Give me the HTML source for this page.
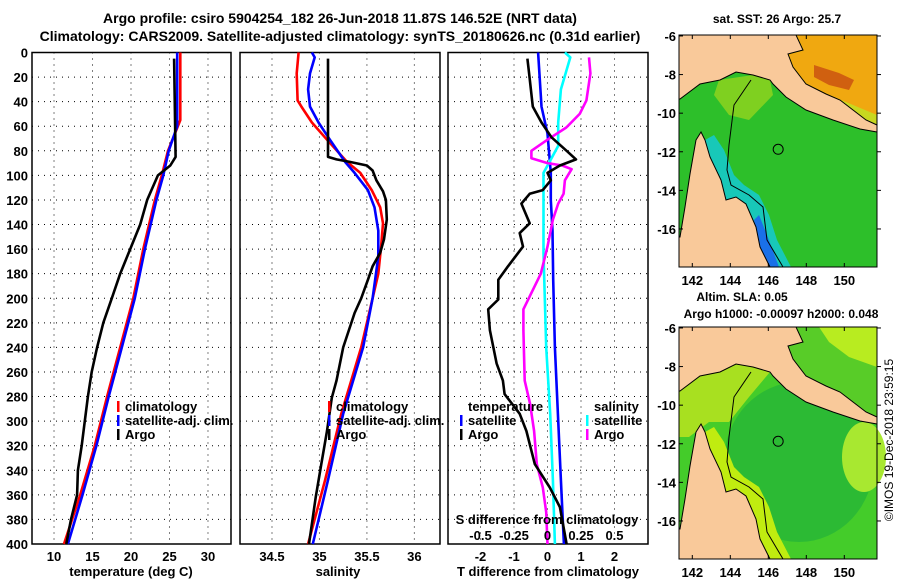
<!DOCTYPE html>
<html><head><meta charset="utf-8"><style>
html,body{margin:0;padding:0;background:#fff;}
svg{display:block;font-family:"Liberation Sans",Arial,sans-serif;font-weight:bold;}
</style></head><body>
<svg id="fig" width="900" height="580" viewBox="0 0 900 580" xmlns="http://www.w3.org/2000/svg">
<text x="340" y="23" font-size="14" text-anchor="middle">Argo profile: csiro 5904254_182 26-Jun-2018 11.87S 146.52E (NRT data)</text>
<text x="340" y="41" font-size="14" text-anchor="middle">Climatology: CARS2009. Satellite-adjusted climatology: synTS_20180626.nc (0.31d earlier)</text>
<g id="plots"></g>
<g id="maps"></g>
<text transform="translate(893,440) rotate(-90)" font-size="12" font-weight="normal" text-anchor="middle">©IMOS 19-Dec-2018 23:59:15</text>
</svg>
<script>
// ---- data ----
const depthTicks = [0,20,40,60,80,100,120,140,160,180,200,220,240,260,280,300,320,340,360,380,400];
const tempTicks = [10,15,20,25,30];
const salTicks = [34.5,35,35.5,36];
const salTickLabels = ["34.5","35","35.5","36"];
const tdiffTicks = [-2,-1,0,1,2];
const sdiffTicks = [-0.5,-0.25,0,0.25,0.5];
const sdiffTickLabels = ["-0.5","-0.25","0","0.25","0.5"];

const tempClimD = [0,55,80,100,120,160,200,240,280,320,360,400];
const tempClim  = [26.4,26.4,24.8,24.0,23.1,21.6,20.3,18.6,16.9,15.3,13.4,11.3];
const tempSatD  = [0,60,80,100,120,160,200,240,280,320,360,400];
const tempSat   = [26.0,26.0,24.9,24.2,23.3,21.8,20.5,18.8,17.1,15.5,13.7,11.8];
const tempArgoD = [5,85,92,100,120,140,160,180,200,220,240,260,280,300,320,340,360,380,400];
const tempArgo  = [25.6,25.8,25.1,23.5,22.1,21.2,19.9,18.6,17.5,16.4,15.6,14.9,14.4,14.0,13.6,13.1,13.0,12.2,11.6];

const salClimD = [0,17,39,44,57,71,89,98,112,126,139,158,180,200,240,294,348,400];
const salClim  = [34.78,34.76,34.77,34.81,34.92,35.08,35.29,35.43,35.55,35.64,35.67,35.65,35.62,35.56,35.44,35.23,35.06,34.88];
const salSatD  = [0,4,17,30,44,57,71,89,98,112,126,145,166,200,240,294,348,400];
const salSat   = [34.92,34.95,34.90,34.88,34.90,34.99,35.11,35.27,35.37,35.51,35.58,35.62,35.62,35.56,35.46,35.25,35.09,34.93];
const salArgoD = [5,85,87,89,92,96,104,113,120,136,152,163,174,185,200,212,240,267,281,308,335,362,400];
const salArgo  = [35.09,35.09,35.18,35.32,35.50,35.56,35.60,35.67,35.70,35.71,35.68,35.64,35.56,35.51,35.44,35.37,35.25,35.18,35.13,35.08,35.02,34.96,34.89];

const tdArgoD = [5,17,44,57,69,80,87,92,98,104,112,115,123,139,147,158,174,185,201,209,226,253,267,278,294,308,335,354,370,400];
const tdArgo  = [-0.6,-0.55,-0.44,-0.18,0.12,0.57,0.85,0.37,0,0.1,-0.14,-0.53,-0.78,-0.53,-0.83,-0.73,-1.18,-1.47,-1.47,-1.77,-1.72,-1.52,-1.33,-1.28,-0.83,-0.63,-0.38,0.07,0.37,0.57];
const tdSatD  = [0,44,66,98,120,145,185,240,294,348,400];
const tdSat   = [-0.28,-0.18,0,0.1,0.1,0.15,0.17,0.22,0.31,0.4,0.49];
const sdSatD  = [0,4,30,57,76,88,98,126,163,200,240,294,348,400];
const sdSat   = [0.13,0.17,0.1,0.08,0.08,0.02,-0.03,-0.03,-0.03,-0.02,-0.01,0.02,0.04,0.055];
const sdArgoD = [4,17,39,50,61,71,80,86,90,92,95,104,115,123,136,158,180,209,226,267,286,308,335,354,374,400];
const sdArgo  = [0.31,0.32,0.29,0.24,0.14,0,-0.12,-0.12,0,0.11,0.18,0.13,0.12,0.08,0.04,0,-0.05,-0.18,-0.18,-0.17,-0.13,-0.1,-0.08,-0.035,-0.01,0];

// ---- scales ----
const NS = "http://www.w3.org/2000/svg";
const TOP = 52.5, BOT = 544;
function yD(d){ return TOP + d*(BOT-TOP)/400; }
const P1 = {x0:32, x1:231, v0:7.14, v1:32.99};
const P2 = {x0:240, x1:440, v0:34.163, v1:36.27};
const P3 = {x0:448, x1:648, v0:-2.97, v1:3.00};
function sx(p,v){ return p.x0 + (v-p.v0)*(p.x1-p.x0)/(p.v1-p.v0); }
function sxS(v){ return sx(P3, v*4); }

function el(tag, attrs, parent){
  const e = document.createElementNS(NS, tag);
  for (const k in attrs) e.setAttribute(k, attrs[k]);
  parent.appendChild(e); return e;
}
const plots = document.getElementById('plots');

function panel(p, name, xticks, xfn, labels, showY){
  const g = el('g', {}, plots);
  
  
  depthTicks.forEach((d,i)=>{
    if (i>0 && i<depthTicks.length-1){
      const l = el('line',{x1:p.x0,x2:p.x1,y1:yD(d),y2:yD(d),stroke:'#000','stroke-width':1,'stroke-dasharray':'1,5'},g);
      
      
    }
    if (showY){
      const t = el('text',{x:p.x0-4,y:yD(d)+5,'font-size':13,'text-anchor':'end'},g);
      
      
      t.textContent = d;
    }
  });
  xticks.forEach((v,i)=>{
    const x = xfn(v);
    const l = el('line',{x1:x,x2:x,y1:TOP,y2:BOT,stroke:'#000','stroke-width':1,'stroke-dasharray':'1,5'},g);
    
    
    if (labels){
      const t = el('text',{x:x,y:BOT+17,'font-size':13,'text-anchor':'middle'},g);
      
      
      t.textContent = labels[i];
    }
  });
  const r = el('rect',{x:p.x0,y:TOP,width:p.x1-p.x0,height:BOT-TOP,fill:'none',stroke:'#000','stroke-width':1.5},g);
  
  
  return g;
}
function series(g, ds, vs, xfn, color, name){
  const pts = ds.map((d,i)=> xfn(vs[i]).toFixed(1)+','+yD(d).toFixed(1)).join(' ');
  const pl = el('polyline',{points:pts,fill:'none',stroke:color,'stroke-width':2.6,'stroke-linejoin':'round'},g);
  
  
}
function txt(g, x, y, s, name, anchor, size){
  const t = el('text',{x:x,y:y,'font-size':size||13,'text-anchor':anchor||'start'},g);
  
  
  t.textContent = s;
  return t;
}
function mark(g, x, y, color, name){
  const r = el('rect',{x:x,y:y-10,width:2.5,height:11,fill:color},g);
  
  
}

// panel 1
const f1 = v=>sx(P1,v);
const g1 = panel(P1,'temperature-panel',tempTicks,f1,tempTicks.map(String),true);
series(g1,tempClimD,tempClim,f1,'#ff0000','temp-climatology-line');
series(g1,tempSatD,tempSat,f1,'#0000ff','temp-satellite-line');
series(g1,tempArgoD,tempArgo,f1,'#000000','temp-argo-line');
txt(g1,131,576,'temperature (deg C)','temperature-axis-title','middle');
mark(g1,117,411,'#ff0000','legend-marker-climatology'); txt(g1,125,411,'climatology','legend-climatology');
mark(g1,117,425,'#0000ff','legend-marker-satellite'); txt(g1,125,425,'satellite-adj. clim.','legend-satellite');
mark(g1,117,439,'#000','legend-marker-argo'); txt(g1,125,439,'Argo','legend-argo');

// panel 2
const f2 = v=>sx(P2,v);
const g2 = panel(P2,'salinity-panel',salTicks,f2,salTickLabels,false);
series(g2,salClimD,salClim,f2,'#ff0000','sal-climatology-line');
series(g2,salSatD,salSat,f2,'#0000ff','sal-satellite-line');
series(g2,salArgoD,salArgo,f2,'#000000','sal-argo-line');
txt(g2,338,576,'salinity','salinity-axis-title','middle');
mark(g2,328,411,'#ff0000','legend-marker-climatology'); txt(g2,336,411,'climatology','legend-climatology');
mark(g2,328,425,'#0000ff','legend-marker-satellite'); txt(g2,336,425,'satellite-adj. clim.','legend-satellite');
mark(g2,328,439,'#000','legend-marker-argo'); txt(g2,336,439,'Argo','legend-argo');

// panel 3
const f3 = v=>sx(P3,v);
const g3 = panel(P3,'difference-panel',tdiffTicks,f3,tdiffTicks.map(String),false);
series(g3,tdSatD,tdSat,f3,'#0000ff','tdiff-satellite-line');
series(g3,sdSatD,sdSat,sxS,'#00ffff','sdiff-satellite-line');
series(g3,sdArgoD,sdArgo,sxS,'#ff00ff','sdiff-argo-line');
series(g3,tdArgoD,tdArgo,f3,'#000000','tdiff-argo-line');
txt(g3,548,576,'T difference from climatology','tdiff-axis-title','middle');
txt(g3,547,524,'S difference from climatology','sdiff-axis-title','middle');
sdiffTicks.forEach((v,i)=>{ txt(g3,sxS(v),540,sdiffTickLabels[i],'sdiff-tick-label','middle'); });
txt(g3,468,411,'temperature','legend-temperature-heading');
mark(g3,460,425,'#0000ff','legend-marker-t-satellite'); txt(g3,468,425,'satellite','legend-t-satellite');
mark(g3,460,439,'#000','legend-marker-t-argo'); txt(g3,468,439,'Argo','legend-t-argo');
txt(g3,594,411,'salinity','legend-salinity-heading');
mark(g3,586,425,'#00ffff','legend-marker-s-satellite'); txt(g3,594,425,'satellite','legend-s-satellite');
mark(g3,586,439,'#ff00ff','legend-marker-s-argo'); txt(g3,594,439,'Argo','legend-s-argo');

// ---- maps ----
const lonTicks = [142,144,146,148,150];
const latTicks = [-6,-8,-10,-12,-14,-16];
const argoLon = 146.52, argoLat = -11.87;
const maps = document.getElementById('maps');
const png = [[0,0],[117,0],[124,15],[109,19],[114,32],[127,49],[147,59],[161,65],[174,75],[187,85],[198,90],[198,97],[181,94],[154,85],[127,75],[107,62],[94,49],[91,45],[74,40],[57,37],[41,45],[21,49],[1,64],[0,64]];
const solomon = [[117,0],[198,0],[198,90],[187,85],[174,75],[161,65],[147,59],[127,49],[114,32],[109,19],[124,15]];
const cape = [[22,97],[26,105],[31,122],[42,145],[47,165],[57,162],[67,169],[77,192],[81,212],[91,232],[0,232],[0,202],[1,202],[6,172],[11,139],[17,105]];
const coastBand = [[26,105],[31,122],[42,145],[47,165],[57,162],[67,169],[77,192],[81,212],[91,232],[112,232],[98,205],[90,180],[80,160],[65,150],[55,140],[45,115],[35,100]];
const isobath = [[72,45],[55,70],[50,110],[48,135],[52,150],[70,160],[84,172],[88,205],[104,232]];

function drawMap(ox, oy, name, kind){
  const W=198,H=232;
  const g = el('g',{transform:`translate(${ox},${oy})`},maps);
  
  
  const px = lon => (lon-141.3)*19.0;
  const py = lat => (-5.95-lat)*19.3;
  const poly = (pts,fill,nm,stroke)=>{
    const p = el('polygon',{points:pts.map(a=>a.join(',')).join(' '),fill:fill,stroke:stroke||'none','stroke-width':1},g);
    
    
  };
  const ocean = el('rect',{x:0,y:0,width:W,height:H,fill: kind==='sst' ? '#2dbf2a' : '#44cc2a'},g);
  
  
  if (kind==='sst'){
    poly(coastBand,'#18c8b8','coastal-cool-band');
    poly([[75,185],[81,212],[91,232],[100,232],[88,200],[80,180]],'#1a70e8','coastal-cold-patch');
    poly([[40,45],[74,40],[91,45],[94,60],[70,85],[50,80],[35,60]],'#7fd020','gulf-warm-patch');
    poly(solomon,'#f0a810','solomon-sea-sst','#e8e800');
    poly([[135,30],[160,38],[175,45],[170,55],[150,50],[135,42]],'#d06010','warm-patch');
    poly([[150,60],[198,80],[198,90],[187,85],[174,75],[161,65]],'#c8d820','shelf-patch');
  } else {
    const gr = el('ellipse',{cx:120,cy:135,rx:75,ry:80,fill:'#24b438',opacity:0.75},g);
    
    
    const gy = el('ellipse',{cx:185,cy:130,rx:22,ry:35,fill:'#a8e830'},g);
    
    
    poly(coastBand,'#c0ec10','coastal-high-band');
    poly([[0,64],[21,49],[41,45],[57,37],[74,40],[91,45],[70,70],[50,95],[30,95],[10,110],[0,110]],'#a8e020','gulf-high');
    poly(solomon,'#58cc28','solomon-sea-sla');
    poly([[140,0],[198,0],[198,40],[170,30],[150,15]],'#b8ec20','solomon-high');
  }
  poly(png,'#f9c99a','png-land','#000');
  poly(cape,'#f9c99a','cape-york-land','#000');
  const iso = el('polyline',{points:isobath.map(a=>a.join(',')).join(' '),fill:'none',stroke:'#000','stroke-width':1},g);
  
  
  const c = el('circle',{cx:px(argoLon),cy:py(argoLat),r:5,fill:'none',stroke:'#000','stroke-width':1},g);
  
  
  const fr = el('rect',{x:0,y:0,width:W,height:H,fill:'none',stroke:'#000','stroke-width':1},g);
  
  
  lonTicks.forEach(v=>{
    const x = px(v);
    el('line',{x1:x,x2:x,y1:0,y2:4,stroke:'#000'},g);
    el('line',{x1:x,x2:x,y1:H,y2:H-4,stroke:'#000'},g);
    const t = el('text',{x:x,y:H+18,'font-size':13,'text-anchor':'middle'},g);
    
    
    t.textContent = v;
  });
  latTicks.forEach(v=>{
    const y = py(v);
    el('line',{x1:0,x2:4,y1:y,y2:y,stroke:'#000'},g);
    el('line',{x1:W,x2:W+4,y1:y,y2:y,stroke:'#000'},g);
    const t = el('text',{x:-3,y:y+5,'font-size':13,'text-anchor':'end'},g);
    
    
    t.textContent = v;
  });
  return g;
}
drawMap(679,35,'sst-map','sst');
drawMap(679,327,'sla-map','sla');
const mt = document.getElementById('maps');
txt(mt,777,23,'sat. SST: 26 Argo: 25.7','sst-map-title','middle',12);
txt(mt,742,301,'Altim. SLA: 0.05','sla-map-title','middle',12);
txt(mt,781,318,'Argo h1000: -0.00097 h2000: 0.048','sla-map-subtitle','middle',12);
</script>
</body></html>
